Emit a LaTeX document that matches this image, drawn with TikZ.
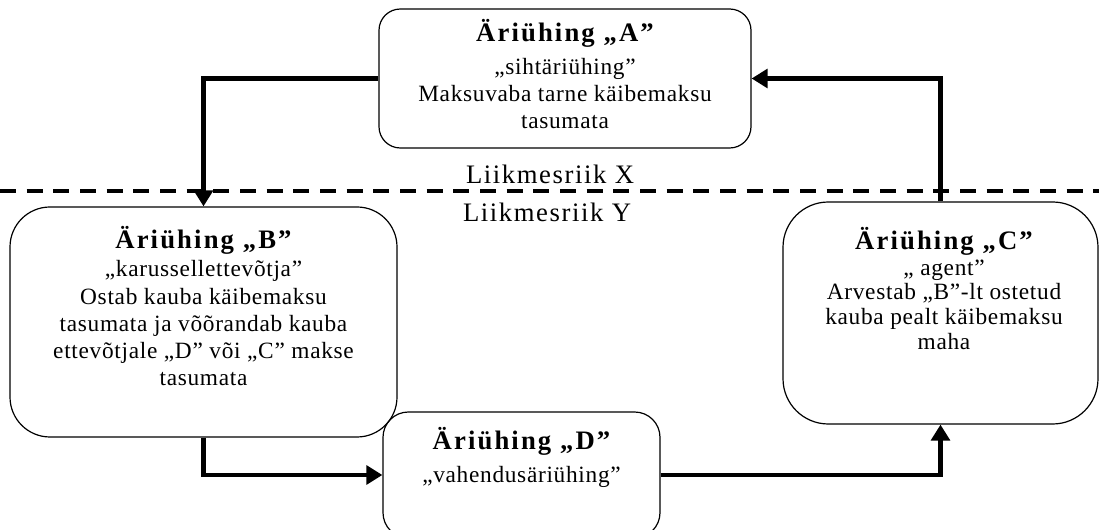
\documentclass[tikz,border=0pt]{standalone}
\usepackage{fontspec}
\setmainfont{Liberation Serif}
\newfontfamily\bodyfont[LetterSpace=3]{Liberation Serif}
\newfontfamily\titlefont[LetterSpace=8]{Liberation Serif}
\newfontfamily\labelfont[LetterSpace=6]{Liberation Serif}
\usetikzlibrary{arrows.meta}
\newcommand{\ttl}[1]{{\titlefont\bfseries\fontsize{20}{20}\selectfont #1}}
\begin{document}
\begin{tikzpicture}[x=0.75pt,y=-0.75pt,
  box/.style={draw, line width=0.9pt, inner sep=0pt},
  conn/.style={line width=3.6pt, -{Triangle[length=12pt,width=14pt]}},
  txt/.style={align=center, anchor=north, inner sep=0pt,
    font=\bodyfont\fontsize{17.5}{20.25}\selectfont},
  lbl/.style={inner sep=0pt, font=\labelfont\fontsize{20}{20}\selectfont},
  sep/.style={line width=3pt, dash pattern=on 12pt off 8pt}
  ]
\useasboundingbox (0,0) rectangle (1099,530);
\clip (0,0) rectangle (1099,530);
% separator
\draw[sep] (0,191) -- (1099,191);
\node[lbl] (lx) at (550,174) {Liikmesriik X};
\node[lbl] (ly) at (547,212) {Liikmesriik Y};
% boxes
\node[box, rounded corners=16pt, minimum width=279pt, minimum height=104.25pt] (A) at (565,78.5) {};
\node[box, rounded corners=30pt, minimum width=290.25pt, minimum height=172.5pt] (B) at (203.5,322) {};
\node[box, rounded corners=34pt, minimum width=236.25pt, minimum height=166.5pt] (C) at (940.5,313) {};
\node[box, rounded corners=19pt, minimum width=207.75pt, minimum height=94.5pt] (D) at (521.5,475) {};
% texts
\node[txt] (At) at (565,19.5) {\ttl{Äriühing „A”}\\[4pt]
  „sihtäriühing”\\ Maksuvaba tarne käibemaksu\\ tasumata};
\node[txt] (Bt) at (203.5,226) {\ttl{Äriühing „B”}\\[0.5pt]
  „karussellettevõtja”\\[0.75pt] Ostab kauba käibemaksu\\ tasumata ja võõrandab kauba\\
  ettevõtjale „D” või „C” makse\\ tasumata};
\node[txt] (Ct) at (944,227) {\ttl{Äriühing „C”}\\[-0.5pt]
  „ agent”\\[-2.25pt] Arvestab „B”-lt ostetud\\[-1.75pt] kauba pealt käibemaksu\\[-1.5pt] maha};
\node[txt] (Dt) at (521.5,427) {\ttl{Äriühing „D”}\\[4.5pt]
  „vahendusäriühing”};
% connectors
\draw[conn] (A.west) -| (B.north);
\draw[conn] (C.north) |- (A.east);
\draw[conn] (B.south) |- (D.west);
\draw[conn] (D.east) -| (C.south);
\end{tikzpicture}
\end{document}
